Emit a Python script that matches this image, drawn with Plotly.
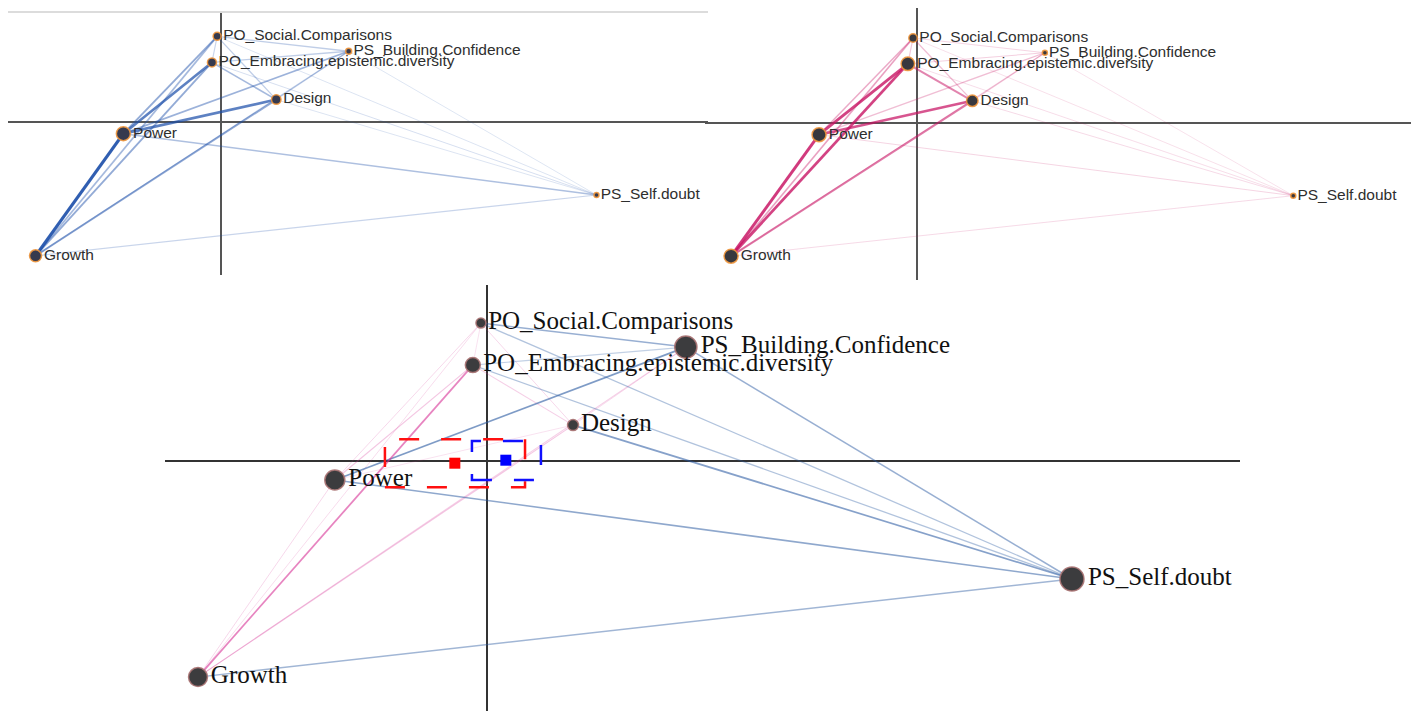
import plotly.graph_objects as go

# ---------------- data ----------------
node_names = ["PO_Social.Comparisons", "PS_Building.Confidence",
              "PO_Embracing.epistemic.diversity", "Design", "Power",
              "PS_Self.doubt", "Growth"]
node_x = [-0.02, 0.663, -0.047, 0.287, -0.507, 1.95, -0.963]
node_y = [0.46, 0.38, 0.32, 0.12, -0.063, -0.393, -0.72]

edge_src = [0, 0, 0, 0, 0, 0, 1, 1, 1, 1, 1, 2, 2, 2, 2, 3, 3, 3, 4, 4, 5]
edge_dst = [1, 2, 3, 4, 5, 6, 2, 3, 4, 5, 6, 3, 4, 5, 6, 4, 5, 6, 5, 6, 6]

blue_edge_weights = [0.2, 0.15, 0.2, 0.45, 0.06, 0.35, 0.2, 0.15, 0.4, 0.05, 0.2,
                     0.35, 0.75, 0.08, 0.45, 0.75, 0.06, 0.45, 0.3, 1.0, 0.15]
pink_edge_weights = [0.08, 0.15, 0.2, 0.3, 0.04, 0.35, 0.1, 0.15, 0.2, 0.03, 0.1,
                     0.5, 0.85, 0.05, 0.85, 0.75, 0.06, 0.55, 0.08, 0.9, 0.06]
# positive = blue group stronger, negative = pink group stronger
diff_edge_weights = [0.45, -0.05, -0.1, -0.1, 0.3, -0.08, 0.2, -0.08, 0.6, 0.45, -0.15,
                     -0.15, -0.2, 0.3, -0.6, -0.05, 0.55, -0.2, 0.5, -0.1, 0.4]

blue_node_weights = [0.4, 0.2, 0.5, 0.55, 1.0, 0.1, 0.8]
pink_node_weights = [0.45, 0.1, 0.95, 0.75, 1.0, 0.1, 1.0]
diff_node_weights = [0.22, 0.9, 0.5, 0.28, 0.78, 1.0, 0.72]

red_mean = [-0.107, -0.007]
red_ci_x = [-0.34, 0.127]
red_ci_y = [-0.087, 0.073]
blue_mean = [0.063, 0.003]
blue_ci_x = [-0.05, 0.18]
blue_ci_y = [-0.063, 0.067]

# ---------------- figure ----------------
W, H = 1411, 711
fig = go.Figure()


def add_network(xa, ya, edge_w, node_w, rgb_pos, rgb_neg, wscale, size_base, size_scale,
                node_fill, node_line, font):
    order = sorted(range(len(edge_w)), key=lambda k: abs(edge_w[k]))
    for k in order:
        w = edge_w[k]
        a = abs(w)
        rgb = rgb_pos if w >= 0 else rgb_neg
        i, j = edge_src[k], edge_dst[k]
        fig.add_trace(go.Scatter(
            x=[node_x[i], node_x[j]], y=[node_y[i], node_y[j]],
            mode="lines", xaxis=xa, yaxis=ya, hoverinfo="skip", showlegend=False,
            line=dict(color="rgba(%d,%d,%d,%.3f)" % (rgb[0], rgb[1], rgb[2], 0.12 + 0.8 * a),
                      width=wscale[0] + wscale[1] * a)))
    fig.add_trace(go.Scatter(
        x=node_x, y=node_y, mode="markers+text", xaxis=xa, yaxis=ya,
        text=node_names, textposition="middle right", showlegend=False,
        marker=dict(size=[size_base + size_scale * v for v in node_w], color=node_fill,
                    opacity=1, line=dict(color=node_line, width=1.5)),
        textfont=font, cliponaxis=False))


top_font = dict(family="Liberation Sans, Arial", size=15.5, color="#2e2e2e")
bot_font = dict(family="Liberation Serif, Times New Roman", size=25, color="#111111")

add_network("x", "y", blue_edge_weights, blue_node_weights, (30, 80, 170), (30, 80, 170),
            (0.8, 2.4), 4, 10, "#363a4e", "rgba(240,150,60,0.9)", top_font)
add_network("x2", "y2", pink_edge_weights, pink_node_weights, (200, 20, 100), (200, 20, 100),
            (0.8, 2.4), 4, 10, "#38383e", "rgba(240,150,60,0.9)", top_font)
add_network("x3", "y3", diff_edge_weights, diff_node_weights, (40, 88, 160), (215, 50, 150),
            (0.8, 1.6), 6, 18, "#3c3c3e", "rgba(170,115,115,0.9)", bot_font)

# confidence interval boxes and means (bottom panel)
fig.add_shape(type="rect", xref="x3", yref="y3", x0=red_ci_x[0], x1=red_ci_x[1],
              y0=red_ci_y[0], y1=red_ci_y[1], line=dict(color="#ff1010", width=2.5, dash="20px,22px"))
fig.add_shape(type="rect", xref="x3", yref="y3", x0=blue_ci_x[0], x1=blue_ci_x[1],
              y0=blue_ci_y[0], y1=blue_ci_y[1], line=dict(color="#1010ff", width=2.5, dash="20px,22px"))
fig.add_trace(go.Scatter(x=[red_mean[0]], y=[red_mean[1]], mode="markers", xaxis="x3", yaxis="y3",
                         showlegend=False, marker=dict(symbol="square", size=11, color="#ff0000")))
fig.add_trace(go.Scatter(x=[blue_mean[0]], y=[blue_mean[1]], mode="markers", xaxis="x3", yaxis="y3",
                         showlegend=False, marker=dict(symbol="square", size=11, color="#0000ff")))


def px_dom_x(a, b):
    return [a / W, b / W]


def px_dom_y(top, bottom):
    return [1 - bottom / H, 1 - top / H]


def ax(domain, rng, anchor, zc, zw):
    return dict(domain=domain, range=rng, anchor=anchor, showgrid=False, showticklabels=False,
                showline=False, ticks="", zeroline=True, zerolinecolor=zc, zerolinewidth=zw,
                fixedrange=True)


fig.update_layout(
    width=W, height=H, margin=dict(l=0, r=0, t=0, b=0),
    paper_bgcolor="white", plot_bgcolor="rgba(0,0,0,0)",
    xaxis=ax(px_dom_x(8, 708), [-1.106, 2.529], "y", "#555555", 1.5),
    yaxis=ax(px_dom_y(12, 275), [-0.823, 0.591], "x", "#555555", 1.5),
    xaxis2=ax(px_dom_x(705, 1411), [-1.098, 2.560], "y2", "#555555", 1.5),
    yaxis2=ax(px_dom_y(8, 280), [-0.849, 0.622], "x2", "#555555", 1.5),
    xaxis3=ax(px_dom_x(165, 1240), [-1.073, 2.51], "y3", "#333333", 2),
    yaxis3=ax(px_dom_y(285, 711), [-0.833, 0.587], "x3", "#333333", 2),
)
fig.add_shape(type="line", xref="paper", yref="paper", x0=8 / W, x1=708 / W,
              y0=1 - 12 / H, y1=1 - 12 / H, line=dict(color="#dcdcdc", width=2))

fig.write_html("out.html")
